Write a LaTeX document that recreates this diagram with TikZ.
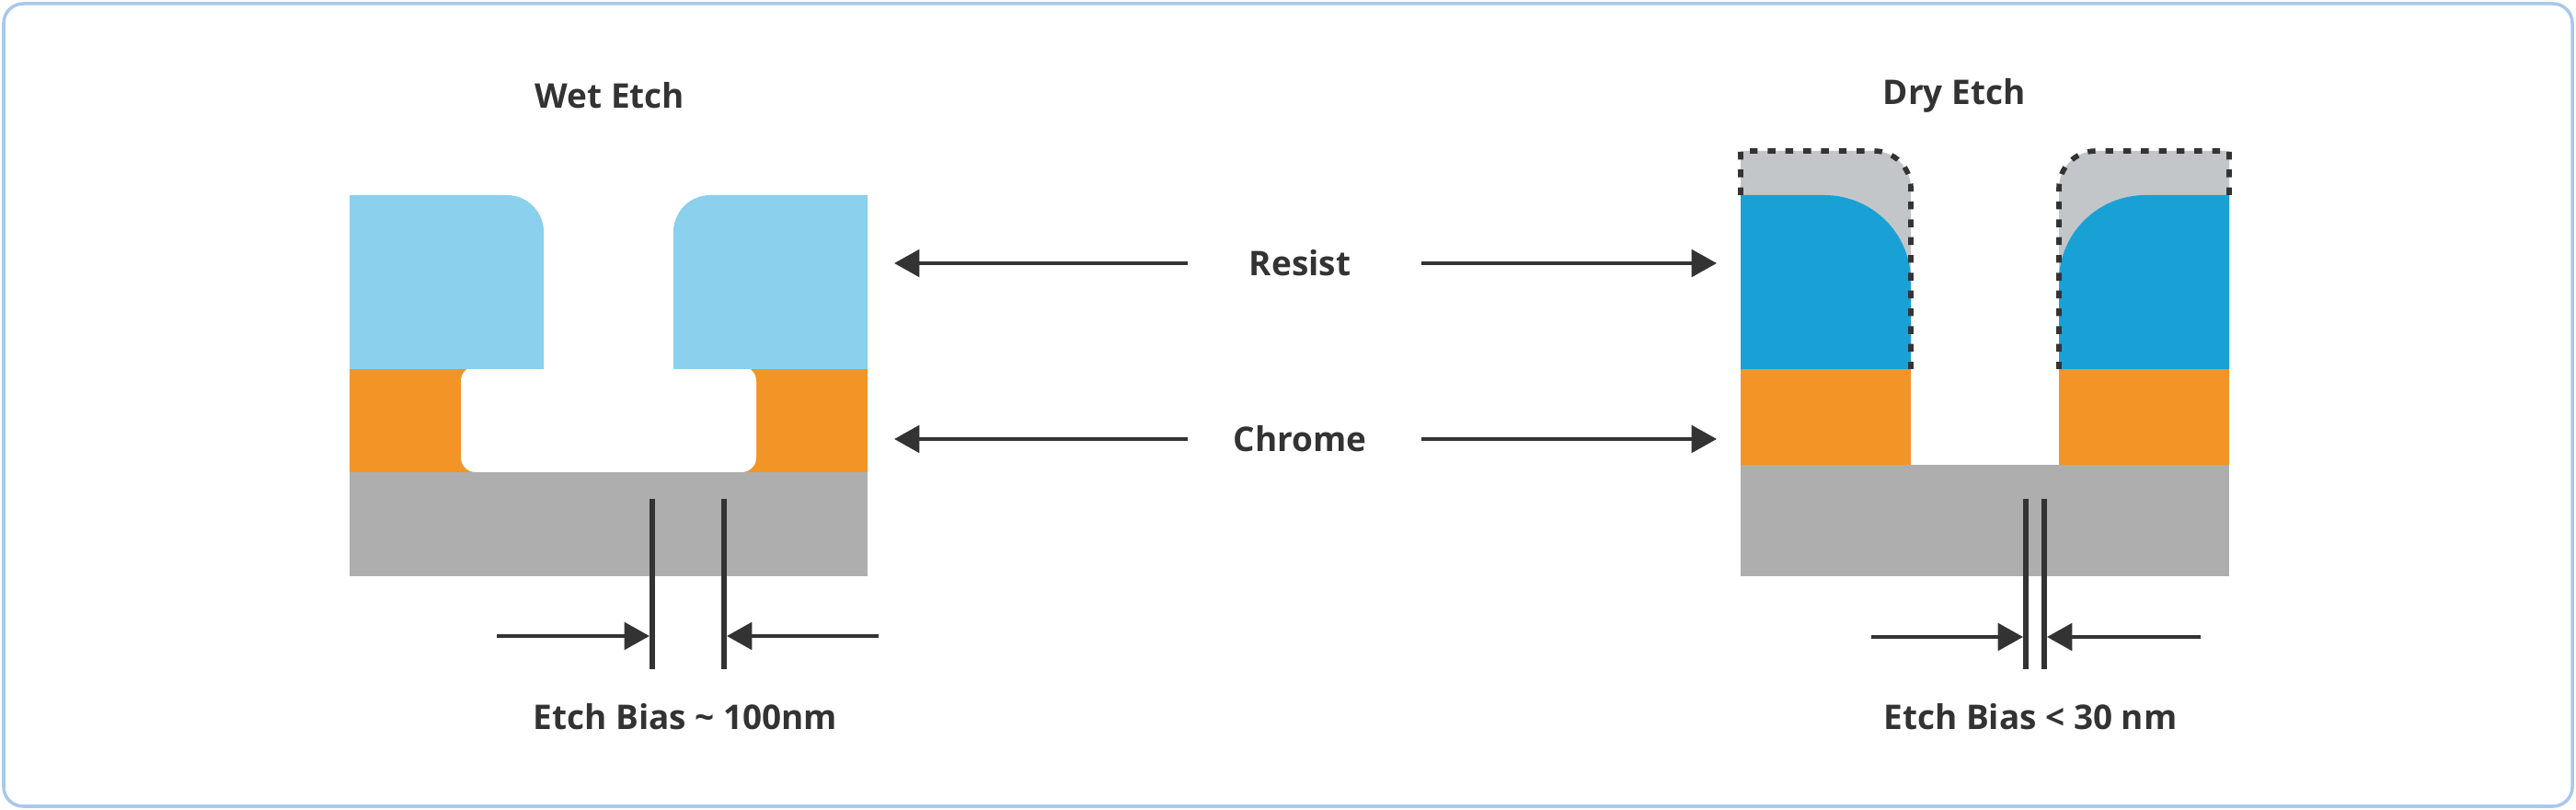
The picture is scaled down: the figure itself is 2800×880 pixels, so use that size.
\documentclass[tikz,border=0pt]{standalone}
\usepackage{fontspec}
\setmainfont{Open Sans}
\usetikzlibrary{arrows.meta}
\definecolor{resL}{HTML}{8BD0EC}
\definecolor{resD}{HTML}{19A1D6}
\definecolor{chrome}{HTML}{F29426}
\definecolor{subst}{HTML}{AEAEAE}
\definecolor{capgray}{HTML}{C3C6C8}
\definecolor{ink}{HTML}{333333}
\definecolor{frame}{HTML}{A8C8EC}
\begin{document}
\begin{tikzpicture}[x=0.01cm,y=-0.01cm,
  lbl/.style={font=\fontsize{10.5}{12}\selectfont\bfseries, text=ink, inner sep=0pt},
  arr/.style={draw=ink, line width=1.15pt, -{Triangle[length=7.8pt,width=8.4pt]}},
  bias/.style={draw=ink, line width=1.7pt},
  dashedge/.style={draw=ink, line width=1.6pt, dash pattern=on 2.4pt off 3.1pt}]
\useasboundingbox (0,0) rectangle (2800,880);
\draw[frame, line width=1pt, rounded corners=6pt] (4,4) rectangle (2796,876);
% ---- Wet etch
\fill[subst] (380,513) rectangle (943,626);
\fill[chrome] (380,401) rectangle (943,513);
\fill[white, rounded corners=4.5pt] (501,398) rectangle (822,513);
\fill[resL] (380,401) -- (380,212) -- (551,212) .. controls (573,212) and (591,230) .. (591,252) -- (591,401) -- cycle;
\fill[resL] (943,401) -- (943,212) -- (772,212) .. controls (750,212) and (732,230) .. (732,252) -- (732,401) -- cycle;
\coordinate (wb1t) at (709,542); \coordinate (wb1b) at (709,727);
\coordinate (wb2t) at (787,542); \coordinate (wb2b) at (787,727);
\draw[bias] (wb1t) -- (wb1b);
\draw[bias] (wb2t) -- (wb2b);
\coordinate (wa1) at (540,691); \coordinate (wa1e) at (706,691);
\coordinate (wa2) at (955,691); \coordinate (wa2e) at (790,691);
\draw[arr] (wa1) -- (wa1e);
\draw[arr] (wa2) -- (wa2e);
\node[lbl] (wet) at (663,104) {Wet Etch};
\node[lbl] (wetbias) at (745,779) {Etch Bias \char"007E{} 100nm};
% ---- Dry etch
\fill[subst] (1892,505) rectangle (2423,626);
\fill[chrome] (1892,401) rectangle (2077,505);
\fill[chrome] (2238,401) rectangle (2423,505);
\fill[capgray] (1892,401) -- (1892,164) -- (2037,164) .. controls (2059,164) and (2077,182) .. (2077,204) -- (2077,401) -- cycle;
\fill[capgray] (2423,401) -- (2423,164) -- (2278,164) .. controls (2256,164) and (2238,182) .. (2238,204) -- (2238,401) -- cycle;
\fill[resD] (1892,401) -- (1892,212) -- (1983,212) .. controls (2035,212) and (2077,254) .. (2077,305) -- (2077,401) -- cycle;
\fill[resD] (2423,401) -- (2423,212) -- (2332,212) .. controls (2280,212) and (2238,254) .. (2238,305) -- (2238,401) -- cycle;
\draw[dashedge] (1892,212) -- (1892,164) -- (2037,164) .. controls (2059,164) and (2077,182) .. (2077,204) -- (2077,401);
\draw[dashedge] (2423,212) -- (2423,164) -- (2278,164) .. controls (2256,164) and (2238,182) .. (2238,204) -- (2238,401);
\coordinate (db1t) at (2202,542); \coordinate (db1b) at (2202,727);
\coordinate (db2t) at (2222,542); \coordinate (db2b) at (2222,727);
\draw[bias] (db1t) -- (db1b);
\draw[bias] (db2t) -- (db2b);
\coordinate (da1) at (2034,692); \coordinate (da1e) at (2199,692);
\coordinate (da2) at (2392,692); \coordinate (da2e) at (2225,692);
\draw[arr] (da1) -- (da1e);
\draw[arr] (da2) -- (da2e);
\node[lbl] (dry) at (2124,104) {Dry Etch};
\node[lbl] (drybias) at (2207,779) {Etch Bias < 30 nm};
% ---- middle labels
\node[lbl] (resist) at (1413,286) {Resist};
\node[lbl] (chromel) at (1413,477) {Chrome};
\coordinate (rl) at (1291,286); \coordinate (rle) at (972,286);
\coordinate (rr) at (1545,286); \coordinate (rre) at (1866,286);
\coordinate (cl) at (1291,477); \coordinate (cle) at (972,477);
\coordinate (cr) at (1545,477); \coordinate (cre) at (1866,477);
\draw[arr] (rl) -- (rle);
\draw[arr] (rr) -- (rre);
\draw[arr] (cl) -- (cle);
\draw[arr] (cr) -- (cre);
\end{tikzpicture}
\end{document}
